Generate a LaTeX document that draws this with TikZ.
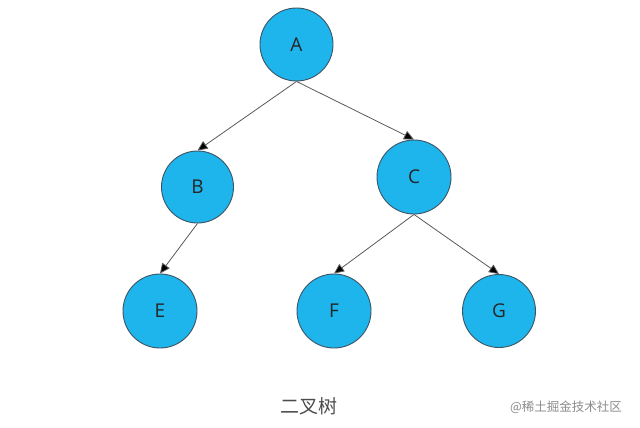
\documentclass[tikz,border=0pt]{standalone}
\usepackage{fontspec}
\setmainfont{Open Sans}
\newfontfamily\cjk{Noto Sans CJK SC}
\usetikzlibrary{arrows.meta}
\definecolor{nodeblue}{RGB}{30,180,236}
\definecolor{nodeedge}{RGB}{60,85,100}
\definecolor{edgegray}{RGB}{90,90,90}
\begin{document}
\begin{tikzpicture}[x=1pt,y=-1pt,
  treenode/.style={circle,draw=nodeedge,line width=0.9pt,fill=nodeblue,minimum size=73pt,inner sep=0pt,font=\fontsize{19}{21}\selectfont,text=black!85},
  treeedge/.style={draw=edgegray,line width=0.8pt,-{Triangle[length=10pt,width=9pt,fill=black]}}]
\useasboundingbox (0,0) rectangle (640,428);
\fill[white] (0,0) rectangle (640,428);
\node[treenode] (A) at (296.5,44.5) {A};
\node[treenode,minimum size=72pt] (B) at (197.5,187) {B};
\node[treenode,minimum size=74pt] (C) at (414,177) {C};
\node[treenode,minimum size=74pt] (E) at (160,311) {E};
\node[treenode,minimum size=74pt] (F) at (334,311) {F};
\node[treenode,minimum size=73pt] (G) at (499,311) {G};
\draw[treeedge] (A.south) -- (B.north);
\draw[treeedge] (A.south) -- (C.north);
\draw[treeedge] (B.south) -- (E.north);
\draw[treeedge] (C.south) -- (F.north);
\draw[treeedge] (C.south) -- (G.north);
\node[font=\cjk\fontsize{19}{21}\selectfont,text=black!70] (cap) at (309,406) {二叉树};
\node[font=\cjk\fontsize{12.5}{14}\selectfont,text=black!45] (wm) at (566,407) {@稀土掘金技术社区};
\end{tikzpicture}
\end{document}
